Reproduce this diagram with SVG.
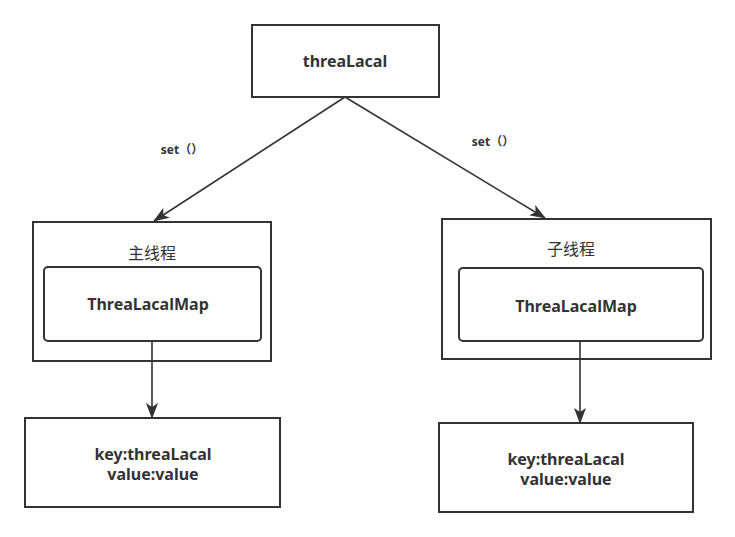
<svg xmlns="http://www.w3.org/2000/svg" width="735" height="537" viewBox="0 0 735 537">
<style>
.box{fill:#fff;stroke:#333;stroke-width:2}
.inner{fill:#fff;stroke:#333;stroke-width:2}
.edge{fill:none;stroke:#333;stroke-width:1.6}
text{font-family:"Noto Sans","Noto Sans CJK SC",sans-serif;font-weight:bold;fill:#333;text-anchor:middle;dominant-baseline:central}
.t{font-size:16px}
.c{font-size:16px;font-weight:normal;font-family:"Noto Sans CJK SC",sans-serif}
.s{font-size:12px}
</style>
<defs>
<marker id="ah" viewBox="0 0 16 12" refX="15" refY="6" markerWidth="16" markerHeight="12" markerUnits="userSpaceOnUse" orient="auto">
<path d="M0,0 L16,6 L0,12 L4,6 Z" fill="#333"/>
</marker>
</defs>
<rect width="735" height="537" fill="#fff"/>
<g id="threaLacal">
<rect class="box" x="252" y="25" width="187" height="72"/>
<text class="t" x="345" y="61">threaLacal</text>
</g>
<g id="main-thread">
<rect class="box" x="33" y="222" width="238" height="139"/>
<text class="c" x="152" y="252">主线程</text>
</g>
<g id="main-map">
<rect class="inner" x="44" y="267" width="217" height="74" rx="4"/>
<text class="t" x="148" y="304">ThreaLacalMap</text>
</g>
<g id="main-entry">
<rect class="box" x="25" y="418" width="255" height="89"/>
<text class="t" x="153" y="454">key:threaLacal</text>
<text class="t" x="153" y="474">value:value</text>
</g>
<g id="child-thread">
<rect class="box" x="442" y="219" width="269" height="140"/>
<text class="c" x="571" y="248">子线程</text>
</g>
<g id="child-map">
<rect class="inner" x="459" y="268" width="244" height="73" rx="4"/>
<text class="t" x="576" y="306">ThreaLacalMap</text>
</g>
<g id="child-entry">
<rect class="box" x="439" y="423" width="254" height="89"/>
<text class="t" x="566" y="459">key:threaLacal</text>
<text class="t" x="566" y="479">value:value</text>
</g>
<g id="connectors">
<line class="edge" x1="345" y1="97" x2="154" y2="221" marker-end="url(#ah)"/>
<line class="edge" x1="345" y1="97" x2="545" y2="218" marker-end="url(#ah)"/>
<line class="edge" x1="152" y1="341" x2="152" y2="418" marker-end="url(#ah)"/>
<line class="edge" x1="580" y1="341" x2="580" y2="423" marker-end="url(#ah)"/>
<text class="s" x="182" y="149">set（）</text>
<text class="s" x="493" y="141">set（）</text>
</g>
</svg>
